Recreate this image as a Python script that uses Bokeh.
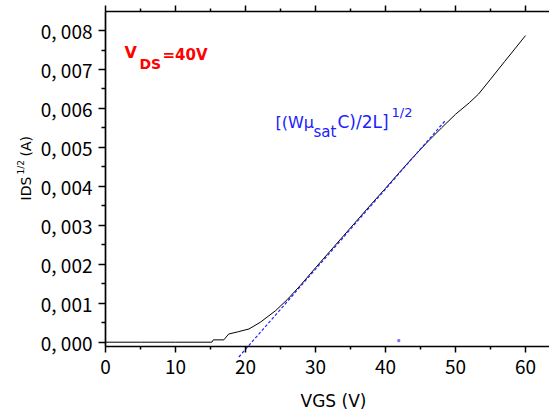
import math
from bokeh.plotting import figure
from bokeh.models import Range1d, FixedTicker, LinearAxis, Label
from bokeh.embed import file_html
from bokeh.resources import INLINE

# ---- data ----
vgs = [0.0, 5.0, 10.0, 15.2, 15.4, 16.9, 17.6, 19.0, 20.5, 22.1, 24.3, 26.0, 27.8,
       30.0, 32.0, 34.0, 36.0, 38.0, 40.0, 42.0, 44.0, 46.0, 48.0, 50.0, 52.0,
       53.3, 55.0, 57.0, 60.0]
ids = [0.00000, 0.00000, 0.00000, 0.00000, 0.00006, 0.00006, 0.00021, 0.00027,
       0.00034, 0.00051, 0.00081, 0.00110, 0.00145, 0.00191, 0.00232, 0.00273,
       0.00314, 0.00355, 0.00395, 0.00436, 0.00476, 0.00514, 0.00550, 0.00585,
       0.00615, 0.00637, 0.00675, 0.00720, 0.00787]

fit_vgs = [19.05, 48.6]
fit_ids = [-0.00038, 0.0057]

stray_vgs = [41.9]
stray_ids = [0.00004]

x_ticks = [0, 10, 20, 30, 40, 50, 60]
x_minor = [5, 15, 25, 35, 45, 55]
y_ticks = [0.000, 0.001, 0.002, 0.003, 0.004, 0.005, 0.006, 0.007, 0.008]
y_tick_labels = ["0, 000", "0, 001", "0, 002", "0, 003", "0, 004",
                 "0, 005", "0, 006", "0, 007", "0, 008"]
y_minor = [0.0005, 0.0015, 0.0025, 0.0035, 0.0045, 0.0055, 0.0065, 0.0075]

# ---- layout helpers (canvas px -> data) ----
W, H = 549, 410
X0, XS = 105.0, 7.0          # px of VGS=0, px per volt
Y0, YS = 341.7, 38960.0      # px of 0 A, px per A
AX_BOTTOM, AX_TOP = 345.7, 11.0


def dx(sx):
    return (sx - X0) / XS


def dy(sy):
    return (Y0 - sy) / YS


p = figure(width=W, height=H, output_backend="svg", toolbar_location=None,
           x_range=Range1d(dx(0), dx(W)), y_range=Range1d(dy(H), dy(0)),
           min_border=0, min_border_left=0, min_border_right=0,
           min_border_top=0, min_border_bottom=0)
p.outline_line_color = None
p.xgrid.visible = False
p.ygrid.visible = False
p.background_fill_color = "white"
p.border_fill_color = "white"

tick_font = "Noto Sans CJK JP"


def style_axis(ax, tout, mout):
    ax.major_tick_out = tout
    ax.major_tick_in = 0
    ax.minor_tick_out = mout
    ax.minor_tick_in = 0
    ax.axis_line_width = 1.7
    ax.major_tick_line_width = 1.5
    ax.minor_tick_line_width = 1.5
    ax.axis_line_color = "black"
    ax.major_tick_line_color = "black"
    ax.minor_tick_line_color = "black"


xax = p.xaxis[0]
xax.ticker = FixedTicker(ticks=x_ticks, minor_ticks=x_minor)
xax.fixed_location = dy(AX_BOTTOM)
xax.bounds = (0, dx(W))
xax.major_label_text_font = tick_font
xax.major_label_text_font_size = "19px"
xax.major_label_text_color = "black"
xax.major_label_standoff = 8
style_axis(xax, 6, 3)

yax = p.yaxis[0]
yax.ticker = FixedTicker(ticks=y_ticks, minor_ticks=y_minor)
yax.fixed_location = 0
yax.bounds = (dy(AX_BOTTOM), dy(AX_TOP))
yax.major_label_overrides = dict(zip(y_ticks, y_tick_labels))
yax.major_label_text_font = tick_font
yax.major_label_text_font_size = "19px"
yax.major_label_text_color = "black"
yax.major_label_standoff = 6
style_axis(yax, 7, 4)

top = LinearAxis(ticker=FixedTicker(ticks=x_ticks, minor_ticks=x_minor))
top.fixed_location = dy(AX_TOP)
top.bounds = (0, dx(W))
top.major_label_overrides = {t: "" for t in x_ticks}
top.major_label_standoff = 0
style_axis(top, 6, 3)
p.add_layout(top, "above")

# ---- data ----
p.line(vgs, ids, line_color="black", line_width=1)
p.line(fit_vgs, fit_ids, line_color="#2424ff", line_width=1.2, line_dash="3 2")
p.scatter(stray_vgs, stray_ids, marker="square", size=2, color="#7070ff")

# ---- texts ----
lab_font = "DejaVu Sans"


def add(text, sx, sy, size, color="black", bold=False, angle=0.0, font=lab_font):
    p.add_layout(Label(x=dx(sx), y=dy(sy), text=text, text_font=font,
                       text_font_size=size, text_color=color,
                       text_font_style="bold" if bold else "normal",
                       text_baseline="alphabetic", text_align="left",
                       angle=angle))


# red V_DS=40V
add("V", 124, 52, "16px", "#ff0000", True)
add("DS", 139, 63, "14px", "#ff0000", True)
add("=40V", 162, 54, "15px", "#ff0000", True)

# blue [(W mu_sat C)/2L]^1/2
add("[(Wμ", 275, 121.7, "16px", "#2020ff")
add("sat", 313, 131.7, "15px", "#2020ff")
add("C)/2L]", 337, 121.7, "17px", "#2020ff")
add("1/2", 391, 111.7, "13px", "#2020ff")

# axis titles
add("VGS (V)", 300, 400, "17px")
add("IDS", 25, 200, "14px", angle=math.pi / 2)
add("1/2", 20, 174, "9px", angle=math.pi / 2)
add("(A)", 25, 156, "14px", angle=math.pi / 2)

open("out.html", "w").write(file_html(p, INLINE))
